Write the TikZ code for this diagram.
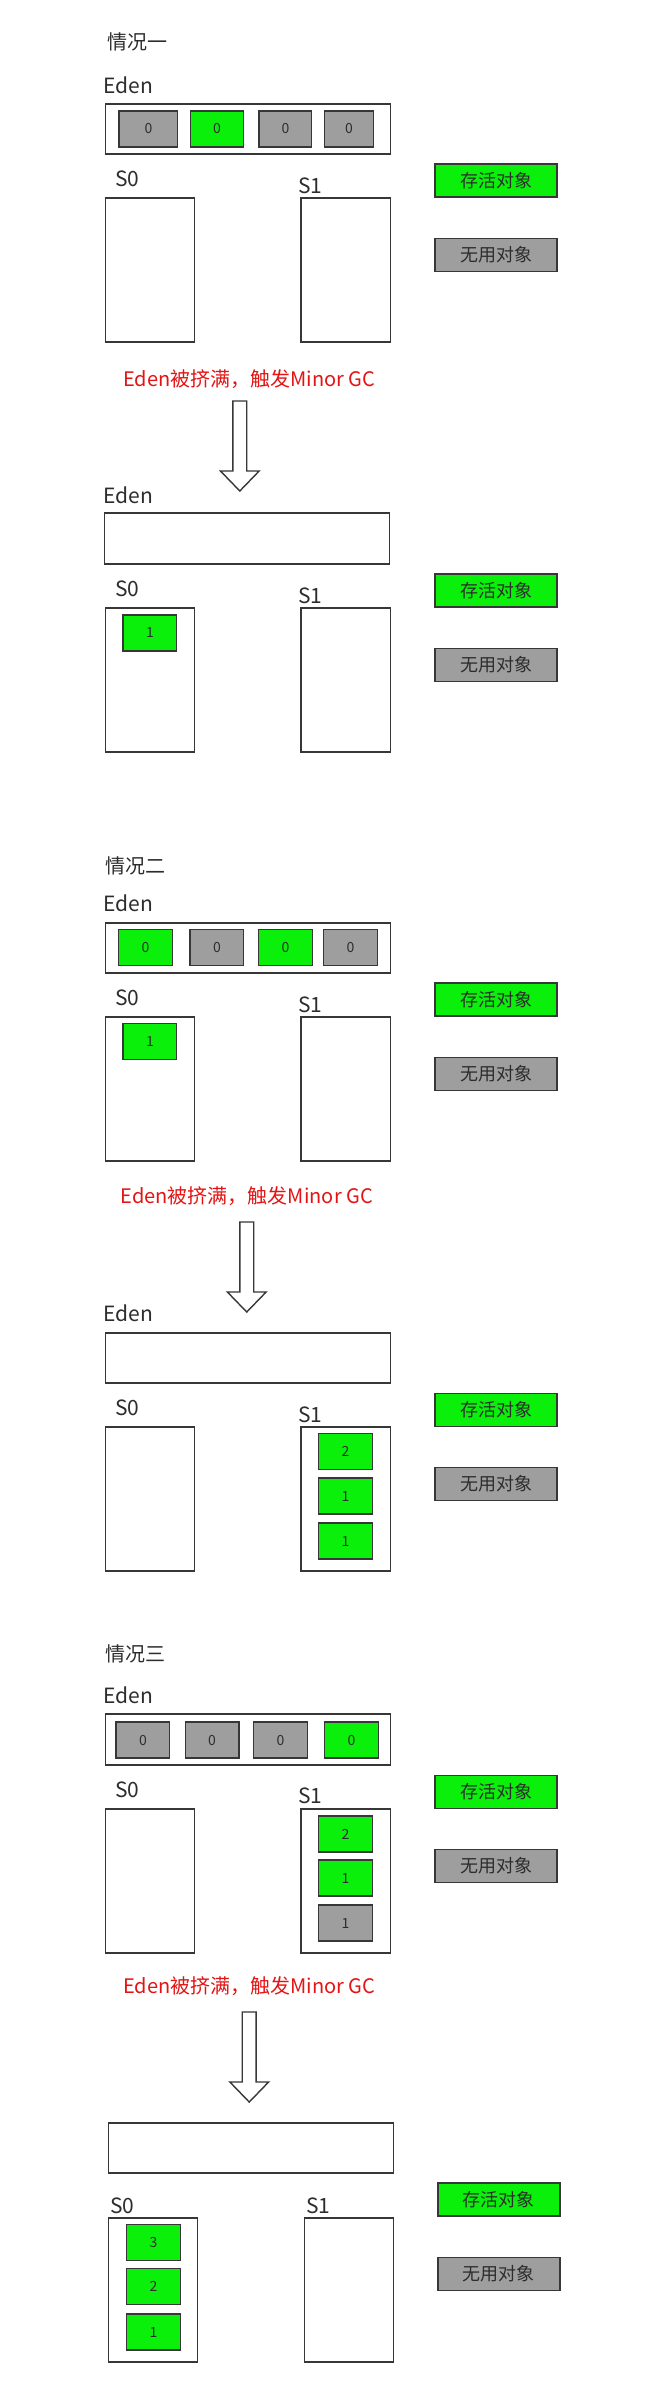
\documentclass[tikz,border=0pt]{standalone}
\usepackage{fontspec}
\setmainfont{Noto Sans CJK SC}
\definecolor{linec}{RGB}{55,55,55}
\definecolor{txtc}{RGB}{45,45,45}
\definecolor{livec}{RGB}{10,240,10}
\definecolor{deadc}{RGB}{158,158,158}
\definecolor{redc}{RGB}{228,20,20}
\tikzset{
  region/.style={draw=linec, line width=1.4pt, fill=white, inner sep=0pt},
  edenbox/.style={region, minimum width=285pt, minimum height=50pt},
  survbox/.style={region, minimum width=89.4pt, minimum height=144pt},
  objbox/.style={draw=linec, line width=1.4pt, inner sep=0pt, minimum width=53.6pt, minimum height=36pt, text=txtc, font=\fontsize{14}{14}\selectfont},
  live/.style={objbox, fill=livec},
  dead/.style={objbox, fill=deadc},
  legbox/.style={draw=linec, line width=1.4pt, inner sep=0pt, minimum width=122pt, minimum height=33pt, text=txtc, font=\fontsize{18}{18}\selectfont},
  title/.style={anchor=west, inner sep=0pt, text=txtc, font=\fontsize{20}{20}\selectfont},
  lbl/.style={anchor=west, inner sep=0pt, text=txtc, font=\fontsize{21}{21}\selectfont},
  redtxt/.style={inner sep=0pt, text=redc, font=\fontsize{20}{20}\selectfont},
  blockarrow/.style={draw=linec, line width=1.4pt, fill=white, line join=miter}
}
\newcommand{\blockarr}[3]{% center x, top y, tip y
  \draw[blockarrow] ({#1-7},#2) -- ({#1+7},#2) -- ({#1+7},{#3-20}) -- ({#1+19.5},{#3-20}) -- (#1,#3) -- ({#1-19.5},{#3-20}) -- ({#1-7},{#3-20}) -- cycle;
}
\begin{document}
\begin{tikzpicture}[x=0.993pt,y=-1pt]
\useasboundingbox (0,0) rectangle (661.63,2406);
\fill[white] (0,0) rectangle (661.63,2406);

% ===== 情况一 =====
\node[title] (t1) at (108,42) {情况一};
\node[lbl] (e1l) at (104,85) {Eden};
\node[edenbox] (e1) at (249.5,129) {};
\node[dead, minimum width=58.6pt] (e1a) at (149.5,129) {0};
\node[live, minimum width=52.6pt] (e1b) at (218.5,129) {0};
\node[dead, minimum width=52.6pt] (e1c) at (287.5,129) {0};
\node[dead, minimum width=48.7pt] (e1d) at (351.5,129) {0};
\node[lbl] (s01l) at (116,179) {S0};
\node[lbl] (s11l) at (300,185.5) {S1};
\node[survbox] (s01) at (151,270) {};
\node[survbox] (s11) at (348,270) {};
\node[legbox, fill=livec] (lv1) at (499.5,180.5) {存活对象};
\node[legbox, fill=deadc] (dd1) at (499.5,255) {无用对象};
\node[redtxt] (r1) at (251,379) {Eden被挤满，触发Minor GC};
\blockarr{241.5}{401}{491}

\node[lbl] (e2l) at (104,495) {Eden};
\node[edenbox, minimum height=51pt] (e2) at (248.5,538.5) {};
\node[lbl] (s02l) at (116,589) {S0};
\node[lbl] (s12l) at (300,596) {S1};
\node[survbox] (s02) at (151,680) {};
\node[survbox] (s12) at (348,680) {};
\node[live] (o2a) at (151,633) {1};
\node[legbox, fill=livec] (lv2) at (499.5,590.5) {存活对象};
\node[legbox, fill=deadc] (dd2) at (499.5,665) {无用对象};

% ===== 情况二 =====
\node[title] (t2) at (106,866) {情况二};
\node[lbl] (e3l) at (104,903.5) {Eden};
\node[edenbox] (e3) at (249.5,948) {};
\node[live] (e3a) at (146.5,947.5) {0};
\node[dead] (e3b) at (218.5,947.5) {0};
\node[live] (e3c) at (287.5,947.5) {0};
\node[dead] (e3d) at (353,947.5) {0};
\node[lbl] (s03l) at (116,998) {S0};
\node[lbl] (s13l) at (300,1005) {S1};
\node[survbox] (s03) at (151,1089) {};
\node[survbox] (s13) at (348,1089) {};
\node[live] (o3a) at (151,1041.5) {1};
\node[legbox, fill=livec] (lv3) at (499.5,999.5) {存活对象};
\node[legbox, fill=deadc] (dd3) at (499.5,1074) {无用对象};
\node[redtxt] (r2) at (248.5,1196) {Eden被挤满，触发Minor GC};
\blockarr{248.5}{1222}{1312}

\node[lbl] (e4l) at (104,1313.5) {Eden};
\node[edenbox] (e4) at (249.5,1358) {};
\node[lbl] (s04l) at (116,1408) {S0};
\node[lbl] (s14l) at (300,1415) {S1};
\node[survbox] (s04) at (151,1499) {};
\node[survbox] (s14) at (348,1499) {};
\node[live] (o4a) at (348,1451.5) {2};
\node[live] (o4b) at (348,1496) {1};
\node[live] (o4c) at (348,1541) {1};
\node[legbox, fill=livec] (lv4) at (499.5,1410) {存活对象};
\node[legbox, fill=deadc] (dd4) at (499.5,1484) {无用对象};

% ===== 情况三 =====
\node[title] (t3) at (106,1654) {情况三};
\node[lbl] (e5l) at (104,1695.5) {Eden};
\node[edenbox, minimum height=51pt] (e5) at (249.5,1739.5) {};
\node[dead] (e5a) at (144,1740) {0};
\node[dead] (e5b) at (213.5,1740) {0};
\node[dead] (e5c) at (282.5,1740) {0};
\node[live] (e5d) at (354,1740) {0};
\node[lbl] (s05l) at (116,1790) {S0};
\node[lbl] (s15l) at (300,1796) {S1};
\node[survbox] (s05) at (151,1881) {};
\node[survbox] (s15) at (348,1881) {};
\node[live] (o5a) at (348,1834) {2};
\node[live] (o5b) at (348,1878) {1};
\node[dead] (o5c) at (348,1923) {1};
\node[legbox, fill=livec] (lv5) at (499.5,1792) {存活对象};
\node[legbox, fill=deadc] (dd5) at (499.5,1866) {无用对象};
\node[redtxt] (r3) at (251,1986) {Eden被挤满，触发Minor GC};
\blockarr{251}{2012}{2102}

\node[edenbox] (e6) at (252.5,2148) {};
\node[lbl] (s06l) at (111,2205.5) {S0};
\node[lbl] (s16l) at (308,2205.5) {S1};
\node[survbox] (s06) at (154,2290) {};
\node[survbox] (s16) at (351.5,2290) {};
\node[live] (o6a) at (154.5,2242.5) {3};
\node[live] (o6b) at (154.5,2286.5) {2};
\node[live] (o6c) at (154.5,2332) {1};
\node[legbox, fill=livec] (lv6) at (502.5,2199.5) {存活对象};
\node[legbox, fill=deadc] (dd6) at (502.5,2274) {无用对象};
\end{tikzpicture}
\end{document}
